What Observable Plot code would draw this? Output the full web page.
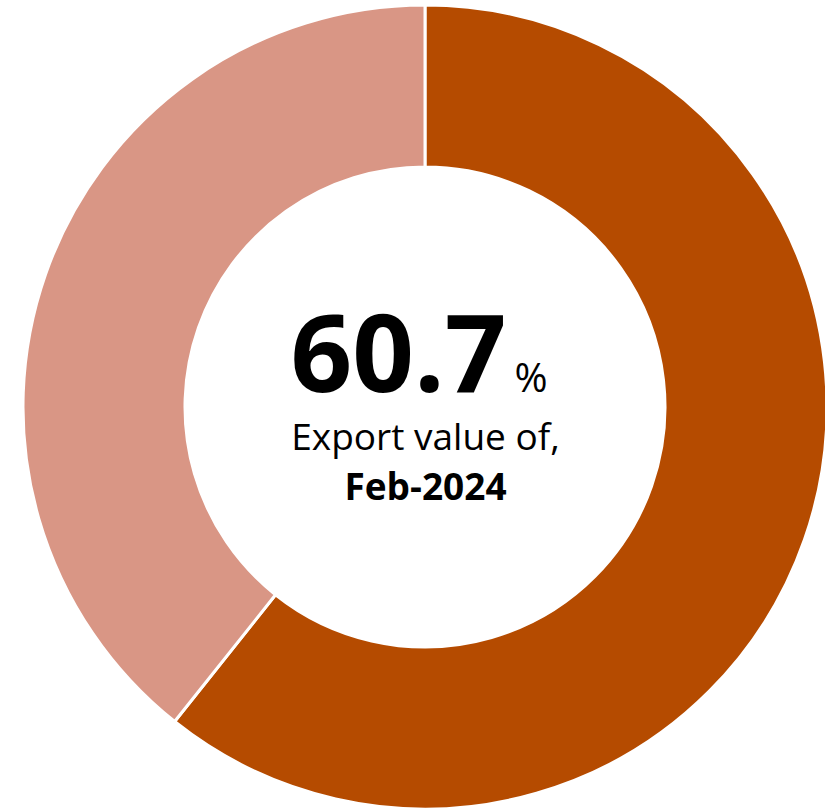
<!DOCTYPE html>
<html>
<head>
<meta charset="utf-8">
<script src="https://cdn.jsdelivr.net/npm/d3@7"></script>
<script src="https://cdn.jsdelivr.net/npm/@observablehq/plot@0.6"></script>
<style>
  html, body { margin: 0; padding: 0; background: #fff; }
  #chart { width: 825px; height: 810px; }
  svg { font-family: "Open Sans", sans-serif; }
</style>
</head>
<body>
<div id="chart"></div>
<script>
const categories = ["Export value", "Other"];
const shares = [60.7, 39.3];
const colors = ["#B54B00", "#D99685"];
const bigValue = ["60.7"];
const unitLabel = ["%"];
const line1 = ["Export value of,"];
const line2 = ["Feb-2024"];

const data = categories.map((c, i) => ({category: c, value: shares[i]}));

const W = 825, H = 810;
const cx = 425, cy = 407, outerR = 402, innerR = 240;
const mx = W / 2, my = H / 2;

const donut = (index, scales, values, dimensions) => {
  const g = d3.create("svg:g").attr("transform", `translate(${cx},${cy})`);
  const pie = d3.pie().sort(null).value(d => d.value);
  const arc = d3.arc().innerRadius(innerR).outerRadius(outerR);
  g.selectAll("path")
    .data(pie(data))
    .join("path")
    .attr("d", arc)
    .attr("fill", d => scales.color(d.data.category))
    .attr("stroke", "white")
    .attr("stroke-width", 3)
    .attr("stroke-linejoin", "round");
  return g.node();
};

const chart = Plot.plot({
  width: W,
  height: H,
  margin: 0,
  x: {axis: null},
  y: {axis: null},
  color: {domain: categories, range: colors},
  marks: [
    Plot.dot(data, {x: () => 0, y: () => 0, fill: "category", r: 0}),
    donut,
    Plot.text(bigValue, {text: d => d, frameAnchor: "middle", textAnchor: "end", lineAnchor: "bottom",
      dx: 506 - mx, dy: 391 - my, fontSize: 108, fontWeight: 700, fill: "#000"}),
    Plot.text(unitLabel, {text: d => d, frameAnchor: "middle", textAnchor: "start", lineAnchor: "bottom",
      dx: 514 - mx, dy: 391 - my, fontSize: 40, fill: "#000"}),
    Plot.text(line1, {text: d => d, frameAnchor: "middle", textAnchor: "middle", lineAnchor: "bottom",
      dx: 425 - mx, dy: 449 - my, fontSize: 37, fill: "#000"}),
    Plot.text(line2, {text: d => d, frameAnchor: "middle", textAnchor: "middle", lineAnchor: "bottom",
      dx: 425 - mx, dy: 499 - my, fontSize: 37, fontWeight: 700, fill: "#000"})
  ]
});
document.getElementById("chart").appendChild(chart);
</script>
</body>
</html>
